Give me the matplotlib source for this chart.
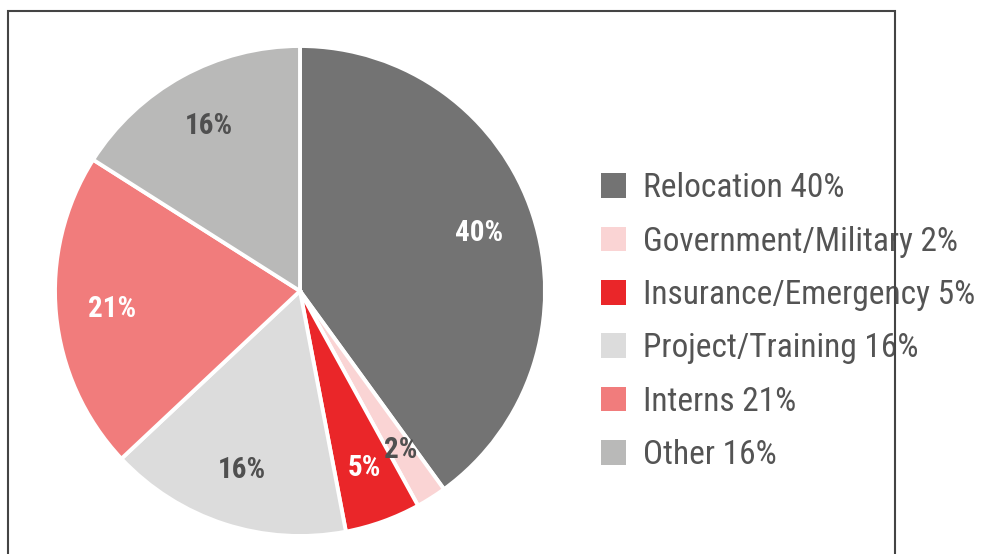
import matplotlib
matplotlib.use("Agg")
import matplotlib.pyplot as plt
from matplotlib.patches import Rectangle

# data
categories = ["Relocation", "Government/Military", "Insurance/Emergency",
              "Project/Training", "Interns", "Other"]
shares = [40, 2, 5, 16, 21, 16]
colors = ["#737373", "#fad4d4", "#ea2629", "#dcdcdc", "#f17c7c", "#b9b9b8"]
label_colors = ["white", "#505050", "white", "#505050", "white", "#505050"]

plt.rcParams["font.family"] = ["Roboto Condensed", "Barlow Semi Condensed", "DejaVu Sans"]

fig = plt.figure(figsize=(9.83, 5.54), dpi=100)
ax = fig.add_axes([55/983, 18/554, 490/983, 490/554])

wedges, texts = ax.pie(shares, colors=colors, startangle=90, counterclock=False,
                       labels=[f"{s}%" for s in shares], labeldistance=0.77,
                       wedgeprops=dict(edgecolor="white", linewidth=2.8),
                       textprops=dict(fontsize=21, fontweight="bold"))
for t, c in zip(texts, label_colors):
    t.set_color(c)
    t.set_ha("center")
    t.set_va("center")
ax.set_xlim(-1, 1)
ax.set_ylim(-1, 1)

fs = 24
leg = fig.legend(wedges, [f"{c} {s}%" for c, s in zip(categories, shares)],
                 loc="center left", bbox_to_anchor=(601/983, 0.4195),
                 frameon=False, prop=dict(size=fs),
                 borderpad=0, borderaxespad=0,
                 handlelength=0.75, handleheight=0.75, handletextpad=0.5,
                 labelspacing=0.64)
for t in leg.get_texts():
    t.set_color("#545454")
for h in leg.legend_handles:
    h.set_edgecolor("none")

# frame around the chart (runs off the bottom edge)
fig.add_artist(Rectangle((8/983, -0.05), 887/983, 1.05 - 11/554,
                         transform=fig.transFigure, fill=False,
                         edgecolor="#444444", linewidth=1.5, zorder=10))

fig.savefig("out.png", dpi=100)
